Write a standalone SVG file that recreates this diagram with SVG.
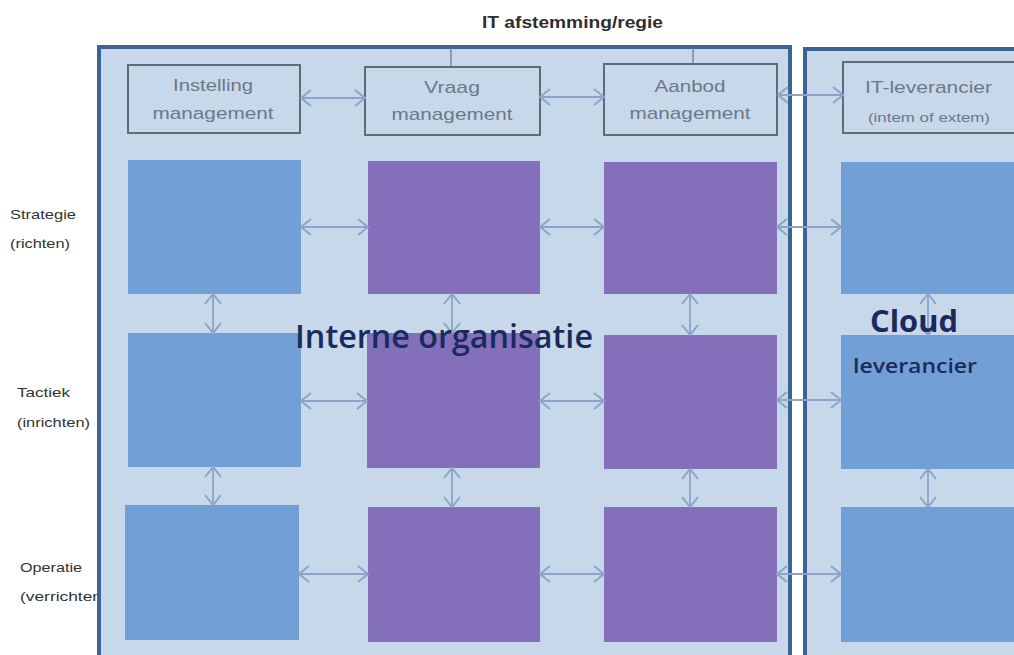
<svg xmlns="http://www.w3.org/2000/svg" width="1014" height="655" viewBox="0 0 1014 655">
<style>
.frame{fill:#c8d8eb;stroke:#3d6393;stroke-width:4}
.mg{fill:#c8d8eb;stroke:#5f6b78;stroke-width:2}
.mt{font-family:"Liberation Sans",Arial,sans-serif;font-size:17px;fill:#6c7886}
.blue{fill:#729fd5}
.purple{fill:#836fba}
.lbl{font-family:"Liberation Sans",Arial,sans-serif;font-size:13px;fill:#333333}
.ar{stroke:#8aa5c9;stroke-width:1.8;fill:none;marker-start:url(#ah);marker-end:url(#ah)}
.big{font-family:"Open Sans","Noto Sans",sans-serif;fill:#1b2a5c}
</style>
<defs>
<marker id="ah" viewBox="0 0 12 18" refX="11" refY="9" markerWidth="12" markerHeight="18" markerUnits="userSpaceOnUse" orient="auto-start-reverse">
<path d="M1,1 L11,9 L1,17" fill="none" stroke="#8aa5c9" stroke-width="2"/>
</marker>
</defs>
<rect x="0" y="0" width="1014" height="655" fill="#ffffff"/>
<text x="482" y="28" font-family="Liberation Sans,Arial,sans-serif" font-size="16" font-weight="bold" fill="#2e2e2e" textLength="181" lengthAdjust="spacingAndGlyphs">IT afstemming/regie</text>
<g id="labels">
<text class="lbl" x="10" y="219" textLength="66" lengthAdjust="spacingAndGlyphs">Strategie</text>
<text class="lbl" x="10" y="248" textLength="60" lengthAdjust="spacingAndGlyphs">(richten)</text>
<text class="lbl" x="17" y="397" textLength="53" lengthAdjust="spacingAndGlyphs">Tactiek</text>
<text class="lbl" x="17" y="427" textLength="73" lengthAdjust="spacingAndGlyphs">(inrichten)</text>
<text class="lbl" x="20" y="572" textLength="62" lengthAdjust="spacingAndGlyphs">Operatie</text>
<text class="lbl" x="20" y="601" textLength="82" lengthAdjust="spacingAndGlyphs">(verrichten</text>
</g>
<g id="frame-intern"><rect class="frame" x="99" y="47" width="691" height="620"/></g>
<g id="frame-cloud"><rect class="frame" x="805" y="49" width="220" height="620"/></g>
<g id="regie-lines">
<line x1="451" y1="47" x2="451" y2="67" stroke="#6c7886" stroke-width="1.2"/>
<line x1="693" y1="47" x2="693" y2="64" stroke="#6c7886" stroke-width="1.2"/>
</g>
<g id="instelling"><rect class="mg" x="128" y="65" width="172" height="68"/>
<text class="mt" x="213" y="91" text-anchor="middle" textLength="80" lengthAdjust="spacingAndGlyphs">Instelling</text>
<text class="mt" x="213" y="119" text-anchor="middle" textLength="121" lengthAdjust="spacingAndGlyphs">management</text></g>
<g id="vraag"><rect class="mg" x="365" y="67" width="175" height="68"/>
<text class="mt" x="452" y="93" text-anchor="middle" textLength="56" lengthAdjust="spacingAndGlyphs">Vraag</text>
<text class="mt" x="452" y="120" text-anchor="middle" textLength="121" lengthAdjust="spacingAndGlyphs">management</text></g>
<g id="aanbod"><rect class="mg" x="604" y="64" width="173" height="71"/>
<text class="mt" x="690" y="92" text-anchor="middle" textLength="71" lengthAdjust="spacingAndGlyphs">Aanbod</text>
<text class="mt" x="690" y="119" text-anchor="middle" textLength="121" lengthAdjust="spacingAndGlyphs">management</text></g>
<g id="it-leverancier"><rect class="mg" x="843" y="62" width="190" height="71"/>
<text class="mt" x="865" y="93" textLength="127" lengthAdjust="spacingAndGlyphs">IT-leverancier</text>
<text class="mt" x="868" y="122" textLength="122" lengthAdjust="spacingAndGlyphs" style="font-size:12px">(intem of extem)</text></g>
<g id="r1c1"><rect class="blue" x="128" y="160" width="173" height="134"/></g>
<g id="r1c2"><rect class="purple" x="368" y="161" width="172" height="133"/></g>
<g id="r1c3"><rect class="purple" x="604" y="162" width="173" height="132"/></g>
<g id="r1c4"><rect class="blue" x="841" y="162" width="180" height="132"/></g>
<g id="r2c1"><rect class="blue" x="128" y="333" width="173" height="134"/></g>
<g id="r2c2"><rect class="purple" x="367" y="333" width="173" height="135"/></g>
<g id="r2c3"><rect class="purple" x="604" y="335" width="173" height="134"/></g>
<g id="r2c4"><rect class="blue" x="841" y="335" width="180" height="134"/></g>
<g id="r3c1"><rect class="blue" x="125" y="505" width="174" height="135"/></g>
<g id="r3c2"><rect class="purple" x="368" y="507" width="172" height="135"/></g>
<g id="r3c3"><rect class="purple" x="604" y="507" width="173" height="135"/></g>
<g id="r3c4"><rect class="blue" x="841" y="507" width="180" height="135"/></g>
<g id="connectors">
<line class="ar" x1="301" y1="98" x2="365" y2="98"/>
<line class="ar" x1="540" y1="97" x2="604" y2="97"/>
<line class="ar" x1="778" y1="95" x2="843" y2="95"/>
<line class="ar" x1="301" y1="227" x2="368" y2="227"/>
<line class="ar" x1="540" y1="227" x2="604" y2="227"/>
<line class="ar" x1="777" y1="227" x2="841" y2="227"/>
<line class="ar" x1="301" y1="401" x2="367" y2="401"/>
<line class="ar" x1="540" y1="401" x2="604" y2="401"/>
<line class="ar" x1="777" y1="400" x2="841" y2="400"/>
<line class="ar" x1="299" y1="574" x2="368" y2="574"/>
<line class="ar" x1="540" y1="574" x2="604" y2="574"/>
<line class="ar" x1="777" y1="574" x2="841" y2="574"/>
<line class="ar" x1="213" y1="294" x2="213" y2="333"/>
<line class="ar" x1="213" y1="467" x2="213" y2="505"/>
<line class="ar" x1="452" y1="294" x2="452" y2="333"/>
<line class="ar" x1="452" y1="468" x2="452" y2="507"/>
<line class="ar" x1="690" y1="294" x2="690" y2="335"/>
<line class="ar" x1="690" y1="469" x2="690" y2="507"/>
<line class="ar" x1="928" y1="294" x2="928" y2="335"/>
<line class="ar" x1="928" y1="469" x2="928" y2="507"/>
</g>
<text class="big" x="295" y="348" font-size="32" font-weight="600" textLength="298" lengthAdjust="spacingAndGlyphs">Interne organisatie</text>
<text class="big" x="870" y="332" font-size="30" font-weight="bold" textLength="88" lengthAdjust="spacingAndGlyphs">Cloud</text>
<text class="big" x="853" y="373" font-size="20" font-weight="600" textLength="124" lengthAdjust="spacingAndGlyphs">leverancier</text>
</svg>
